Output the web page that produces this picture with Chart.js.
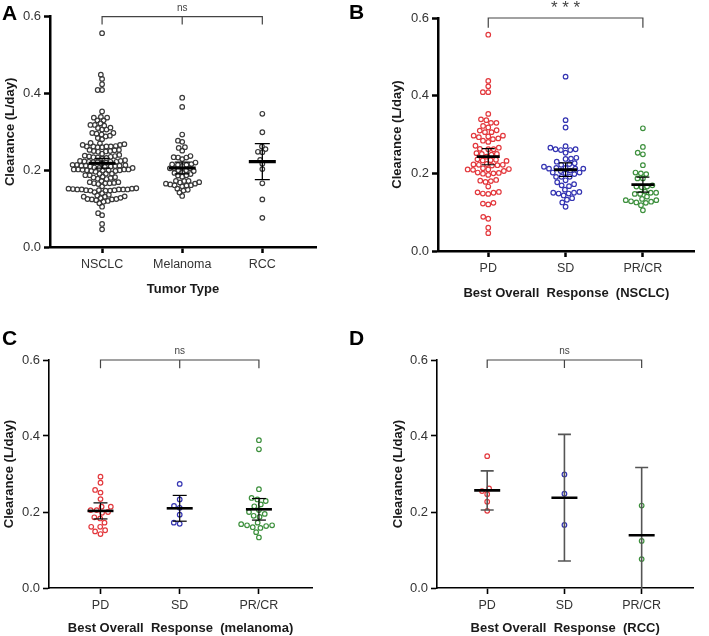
<!DOCTYPE html>
<html>
<head>
<meta charset="utf-8">
<script src="https://cdn.jsdelivr.net/npm/chart.js@4.4.1/dist/chart.umd.min.js"></script>
<style>
  body { margin: 0; background: #fff; width: 709px; height: 636px; position: relative; overflow: hidden; }
  canvas { position: absolute; }
  .lab { position: absolute; font: bold 21px "Liberation Sans", Arial, sans-serif; line-height: 21px; color: #000; }
</style>
</head>
<body>
<canvas id="cA" width="354" height="318" style="left:0;top:0"></canvas>
<canvas id="cB" width="355" height="318" style="left:354px;top:0"></canvas>
<canvas id="cC" width="354" height="318" style="left:0;top:318px"></canvas>
<canvas id="cD" width="355" height="318" style="left:354px;top:318px"></canvas>
<div class="lab" style="left:2px;top:2px">A</div>
<div class="lab" style="left:349px;top:1px">B</div>
<div class="lab" style="left:2px;top:327px">C</div>
<div class="lab" style="left:349px;top:327px">D</div>
<script>
// categories and tick labels
const typeLabels = ['NSCLC', 'Melanoma', 'RCC'];
const responseLabels = ['PD', 'SD', 'PR/CR'];
const yTicks = [0, 0.2, 0.4, 0.6];

// clearance (L/day) per patient
const nsclcPD = [0.557, 0.438, 0.424, 0.409, 0.409, 0.353, 0.339, 0.337, 0.330, 0.330,
  0.322, 0.318, 0.311, 0.310, 0.306, 0.306, 0.297, 0.297, 0.293, 0.295,
  0.290, 0.288, 0.284, 0.281, 0.271, 0.263, 0.266, 0.262, 0.262, 0.250,
  0.252, 0.248, 0.250, 0.243, 0.234, 0.235, 0.233, 0.236, 0.232, 0.222,
  0.220, 0.222, 0.224, 0.221, 0.223, 0.211, 0.210, 0.213, 0.210, 0.209,
  0.206, 0.200, 0.202, 0.199, 0.201, 0.196, 0.180, 0.183, 0.178, 0.181,
  0.166, 0.150, 0.152, 0.148, 0.151, 0.147, 0.120, 0.124, 0.122, 0.083,
  0.088, 0.060, 0.046];
const nsclcSD = [0.449, 0.337, 0.318, 0.270, 0.260, 0.266, 0.260, 0.262, 0.262, 0.253,
  0.238, 0.240, 0.237, 0.230, 0.224, 0.226, 0.214, 0.212, 0.214, 0.217,
  0.212, 0.212, 0.222, 0.207, 0.202, 0.206, 0.200, 0.202, 0.198, 0.191,
  0.191, 0.191, 0.182, 0.177, 0.172, 0.169, 0.167, 0.158, 0.148, 0.152,
  0.148, 0.150, 0.150, 0.143, 0.136, 0.132, 0.125, 0.114];
const nsclcPRCR = [0.316, 0.268, 0.249, 0.253, 0.221, 0.198, 0.202, 0.200, 0.187, 0.187,
  0.164, 0.169, 0.166, 0.166, 0.153, 0.150, 0.150, 0.147, 0.140, 0.147,
  0.134, 0.124, 0.131, 0.125, 0.127, 0.131, 0.128, 0.118, 0.105];
const melPD = [0.293, 0.277, 0.251, 0.258, 0.234, 0.214, 0.214, 0.198, 0.205, 0.205,
  0.200, 0.183, 0.186, 0.172, 0.161, 0.161, 0.152, 0.149, 0.142];
const melSD = [0.274, 0.233, 0.216, 0.211, 0.193, 0.172, 0.169];
const melPRCR = [0.389, 0.365, 0.260, 0.237, 0.233, 0.229, 0.220, 0.215, 0.205, 0.200,
  0.195, 0.190, 0.187, 0.172, 0.168, 0.165, 0.165, 0.163, 0.160, 0.158,
  0.147, 0.133];
const rccPD = [0.347, 0.262, 0.255, 0.247, 0.227, 0.203];
const rccSD = [0.299, 0.248, 0.166];
const rccPRCR = [0.217, 0.124, 0.076];

const nsclcAll = nsclcPD.concat(nsclcSD, nsclcPRCR);
const melAll = melPD.concat(melSD, melPRCR);
const rccAll = rccPD.concat(rccSD, rccPRCR);

const RED = '#e3383d', BLUE = '#3434b2', GREEN = '#3d903d', DARK = '#3a3a3a';
const FONT = '"Liberation Sans", Arial, sans-serif';

function mean(a) { return a.reduce((s, v) => s + v, 0) / a.length; }
// mean with 95% confidence interval
function ci95(a) {
  const n = a.length, m = mean(a);
  const sd = Math.sqrt(a.reduce((s, v) => s + (v - m) * (v - m), 0) / (n - 1));
  const df = n - 1;
  const table = {1: 12.706, 2: 4.303, 3: 3.182, 4: 2.776, 5: 2.571, 6: 2.447, 7: 2.365, 8: 2.306, 9: 2.262, 10: 2.228};
  const z = 1.96;
  const t = table[df] || (z + (z ** 3 + z) / (4 * df) + (5 * z ** 5 + 16 * z ** 3 + 3 * z) / (96 * df * df));
  const h = t * sd / Math.sqrt(n);
  return [m - h, m + h];
}

// simple beeswarm: push each point sideways until it no longer overlaps
function swarm(values, cx, chart, diam) {
  const xs = chart.scales.x, ys = chart.scales.y;
  const pxPerX = xs.getPixelForValue(2) - xs.getPixelForValue(1);
  const items = values.map(v => ({ v: v, py: ys.getPixelForValue(v) })).sort((a, b) => a.v - b.v);
  const placed = [];
  items.forEach(it => {
    const blocked = [];
    placed.forEach(p => {
      const dy = Math.abs(p.py - it.py);
      if (dy < diam) {
        const w = Math.sqrt(diam * diam - dy * dy);
        blocked.push([p.px - w, p.px + w]);
      }
    });
    const cands = [0];
    blocked.forEach(b => cands.push(b[0], b[1]));
    cands.sort((a, b) => Math.abs(a) - Math.abs(b));
    let px = 0;
    for (const c of cands) {
      if (blocked.every(b => c <= b[0] + 1e-6 || c >= b[1] - 1e-6)) { px = c; break; }
    }
    it.px = px;
    placed.push(it);
  });
  return placed.map(p => ({ x: cx + p.px / pxPerX, y: p.v }));
}

const sigPlugin = {
  id: 'sig',
  afterDraw(chart, args, opts) {
    const { ctx, scales: { x, y } } = chart;
    ctx.save();
    ctx.font = opts.font;
    ctx.fillStyle = opts.color;
    ctx.textAlign = 'center';
    ctx.textBaseline = 'alphabetic';
    ctx.fillText(opts.text, x.getPixelForValue(2), y.getPixelForValue(0.6) - opts.gap);
    ctx.restore();
  }
};

function makePanel(id, p) {
  const groups = p.groups;
  const cis = groups.map(g => ci95(g.values));
  const barData = [];
  groups.forEach((g, i) => {
    barData.push({ x: i + 1, y: cis[i][0] }, { x: i + 1, y: cis[i][1] }, { x: i + 1, y: null });
  });
  const capData = [];
  groups.forEach((g, i) => { capData.push({ x: i + 1, y: cis[i][0] }, { x: i + 1, y: cis[i][1] }); });
  const bracket = [{ x: 1, y: p.drop }, { x: 1, y: 0.6 }, { x: 3, y: 0.6 }, { x: 3, y: p.drop }];
  if (p.midTick) bracket.push({ x: 3, y: null }, { x: 2, y: 0.6 }, { x: 2, y: p.drop });

  const datasets = [
    { data: groups.map((g, i) => ({ x: i + 1, y: mean(g.values) })), pointStyle: 'line',
      pointRadius: p.meanHalf, pointHoverRadius: p.meanHalf, pointBorderWidth: p.meanWidth,
      pointBorderColor: '#000' },
    { data: capData, pointStyle: 'line', pointRadius: p.capHalf, pointHoverRadius: p.capHalf,
      pointBorderWidth: p.barWidth, pointBorderColor: p.barColor },
    { data: barData, showLine: true, pointRadius: 0, borderWidth: p.barWidth, borderColor: p.barColor },
    { data: bracket, showLine: true, pointRadius: 0, borderWidth: 1.2, borderColor: '#444', clip: false }
  ];
  groups.forEach((g, i) => {
    datasets.push({ data: g.values.map(v => ({ x: i + 1, y: v })), pointStyle: 'circle',
      pointRadius: 2.3, pointHoverRadius: 2.3, pointBorderWidth: 1.2,
      pointBorderColor: g.color, pointBackgroundColor: 'rgba(255,255,255,0)' });
  });

  const chart = new Chart(document.getElementById(id), {
    type: 'scatter',
    data: { datasets: datasets },
    plugins: [sigPlugin],
    options: {
      responsive: false,
      animation: false,
      layout: { padding: { left: p.pad[0], right: p.pad[1], top: p.pad[2], bottom: 0 } },
      plugins: {
        legend: { display: false },
        tooltip: { enabled: false },
        sig: { text: p.sig, font: p.sigFont, color: '#444', gap: p.sigGap }
      },
      scales: {
        x: {
          type: 'linear', min: 0.35, max: 3.67,
          afterBuildTicks: s => { s.ticks = [1, 2, 3].map(v => ({ value: v })); },
          afterFit: s => { s.height = p.xh; },
          ticks: { callback: v => p.labels[v - 1], font: { family: FONT, size: 12.5 }, color: '#333', padding: 4 },
          grid: { drawOnChartArea: false, drawTicks: true, tickLength: 6, tickWidth: p.axisWidth, tickColor: '#000' },
          border: { color: '#000', width: p.axisWidth },
          title: { display: true, text: p.xTitle, font: { family: FONT, size: 13, weight: 'bold' }, color: '#1a1a1a',
            padding: { top: 0, bottom: p.xTitlePb } }
        },
        y: {
          min: 0, max: 0.6,
          afterBuildTicks: s => { s.ticks = yTicks.map(v => ({ value: v })); },
          afterFit: s => { s.width = p.yw; },
          ticks: { callback: v => v.toFixed(1), font: { family: FONT, size: 13 }, color: '#333', padding: 3 },
          grid: { drawOnChartArea: false, drawTicks: true, tickLength: 6, tickWidth: p.axisWidth, tickColor: '#000' },
          border: { color: '#000', width: p.axisWidth },
          title: { display: true, text: 'Clearance (L/day)', font: { family: FONT, size: 13, weight: 'bold' }, color: '#1a1a1a',
            padding: { top: p.yTitlePt, bottom: 0 } }
        }
      }
    }
  });
  groups.forEach((g, i) => {
    chart.data.datasets[4 + i].data = swarm(g.values, i + 1, chart, p.diam);
  });
  chart.update('none');
  return chart;
}

makePanel('cA', {
  groups: [{ values: nsclcAll, color: DARK }, { values: melAll, color: DARK }, { values: rccAll, color: DARK }],
  labels: typeLabels, xTitle: 'Tumor Type',
  pad: [0, 38, 15], yw: 50, xh: 71, xTitlePb: 21, yTitlePt: 3, axisWidth: 2.5,
  meanHalf: 13.5, meanWidth: 3.2, capHalf: 7.5, barWidth: 1.3, barColor: '#000',
  drop: 0.58, midTick: true, sig: 'ns', sigFont: '10px ' + FONT, sigGap: 6, diam: 4.4
});
makePanel('cB', {
  groups: [{ values: nsclcPD, color: RED }, { values: nsclcSD, color: BLUE }, { values: nsclcPRCR, color: GREEN }],
  labels: responseLabels, xTitle: 'Best Overall  Response  (NSCLC)',
  pad: [33, 1, 18], yw: 51, xh: 67, xTitlePb: 17, yTitlePt: 3, axisWidth: 2.5,
  meanHalf: 11.5, meanWidth: 2.8, capHalf: 6.5, barWidth: 1.2, barColor: '#000',
  drop: 0.575, midTick: false, sig: '* * *', sigFont: '17px ' + FONT, sigGap: 5, diam: 5.4
});
makePanel('cC', {
  groups: [{ values: melPD, color: RED }, { values: melSD, color: BLUE }, { values: melPRCR, color: GREEN }],
  labels: responseLabels, xTitle: 'Best Overall  Response  (melanoma)',
  pad: [0, 42, 42], yw: 49, xh: 48, xTitlePb: 0, yTitlePt: 2, axisWidth: 1.6,
  meanHalf: 13, meanWidth: 2.6, capHalf: 7, barWidth: 1.2, barColor: '#000',
  drop: 0.578, midTick: true, sig: 'ns', sigFont: '10px ' + FONT, sigGap: 6.5, diam: 6
});
makePanel('cD', {
  groups: [{ values: rccPD, color: RED }, { values: rccSD, color: BLUE }, { values: rccPRCR, color: GREEN }],
  labels: responseLabels, xTitle: 'Best Overall  Response  (RCC)',
  pad: [33, 10, 42], yw: 50, xh: 48, xTitlePb: 0, yTitlePt: 3.5, axisWidth: 1.6,
  meanHalf: 13, meanWidth: 2.6, capHalf: 6.5, barWidth: 1.6, barColor: '#555',
  drop: 0.579, midTick: true, sig: 'ns', sigFont: '10px ' + FONT, sigGap: 6.5, diam: 6
});
</script>
</body>
</html>
